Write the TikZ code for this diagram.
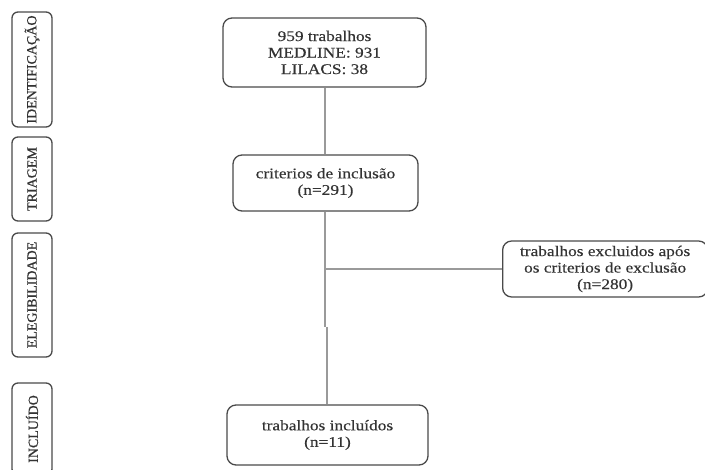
\documentclass[tikz,border=0pt]{standalone}
\usepackage{fontspec}
\setmainfont{Liberation Serif}
\newfontfamily\boxfont{Liberation Serif}[FakeStretch=1.17, FakeBold=0.35]
\newfontfamily\stagefont{Liberation Serif}[FakeBold=0.8]
\usetikzlibrary{positioning}
\definecolor{tgray}{HTML}{333333}
\definecolor{lgray}{HTML}{9A9A9A}
\definecolor{bgray}{HTML}{4A4A4A}
\tikzstyle{l1}=[line width=1.3pt]
\tikzstyle{box}=[draw=bgray, l1, rounded corners=9pt, align=center, text=tgray, inner sep=2pt,
    font=\boxfont\fontsize{14.8}{16.5}\selectfont]
\tikzstyle{stage}=[draw=bgray, l1, rounded corners=6pt, minimum width=40pt, text=tgray,
    font=\stagefont\fontsize{14}{16}\selectfont, inner sep=0pt]
\tikzstyle{link}=[draw=lgray, line width=1.6pt]

\begin{document}
\begin{tikzpicture}[x=1pt, y=-1pt]
    \useasboundingbox (0,0) rectangle (705,470);

    % fases
    \node[stage, minimum height=115pt] at (32,69.5) (s0) {\rotatebox{90}{IDENTIFICAÇÃO}};
    \node[stage, minimum height=84pt] at (32,179) (s1) {\rotatebox{90}{TRIAGEM}};
    \node[stage, minimum height=124pt] at (32,295) (s2) {\rotatebox{90}{ELEGIBILIDADE}};
    \node[stage, minimum height=92pt] at (32,429) (s3) {\rotatebox{90}{INCLUÍDO}};

    % caixas
    \node[box, minimum width=203pt, minimum height=69pt] at (324.5,52.5) (b0) {959 trabalhos\\MEDLINE: 931\\LILACS: 38};
    \node[box, minimum width=185pt, minimum height=56pt] at (325.5,183) (b1) {criterios de inclusão\\(n=291)};
    \node[box, minimum width=205pt, minimum height=56pt, anchor=west] at (502,269) (b2) {trabalhos excluidos após\\os criterios de exclusão\\(n=280)};
    \node[box, minimum width=201pt, minimum height=60pt] at (327.5,435) (b3) {trabalhos incluídos\\(n=11)};

    \coordinate (c0) at (325,269);
    \coordinate (c1) at (325,327);
    \coordinate (c2) at (327,327);

    \draw[link] (b0.south -| c0) -- (b1.north -| c0);
    \draw[link] (b1.south -| c0) -- (c1);
    \draw[link] (c2) -- (b3.north -| c2);
    \draw[link] (c0) -- (b2.west);
\end{tikzpicture}
\end{document}
